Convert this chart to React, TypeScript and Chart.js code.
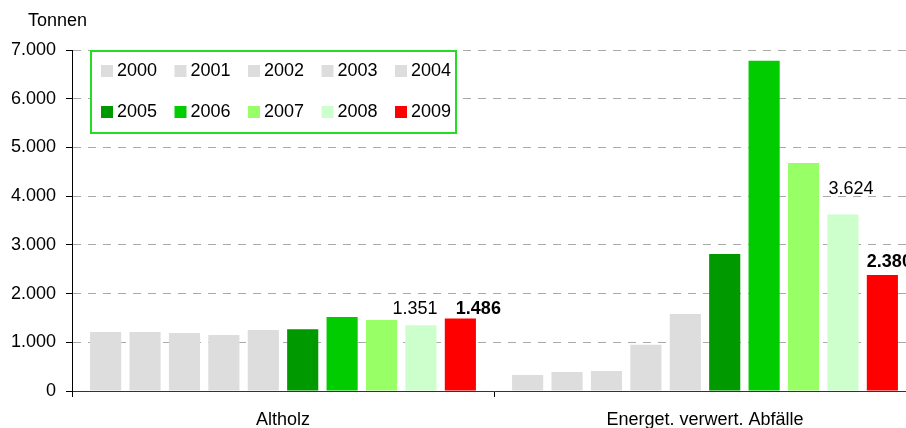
import React, { useEffect, useRef } from "react";
import { Chart, registerables } from "chart.js";

Chart.register(...registerables);

// ---- data ----
const categories = ["Altholz", "Energet. verwert. Abfälle"];
const years = ["2000", "2001", "2002", "2003", "2004", "2005", "2006", "2007", "2008", "2009"];
const values2000 = [1210, 330];
const values2001 = [1210, 390];
const values2002 = [1190, 410];
const values2003 = [1150, 950];
const values2004 = [1250, 1580];
const values2005 = [1270, 2810];
const values2006 = [1520, 6780];
const values2007 = [1460, 4680];
const values2008 = [1351, 3624];
const values2009 = [1486, 2380];
const yearValues = [values2000, values2001, values2002, values2003, values2004, values2005, values2006, values2007, values2008, values2009];
const yearColors = ["#DDDDDD", "#DDDDDD", "#DDDDDD", "#DDDDDD", "#DDDDDD", "#009900", "#00CC00", "#99FF66", "#CCFFCC", "#FF0000"];
const labelledYears = ["2008", "2009"];
const boldLabelYears = ["2009"];
const yMin = 0;
const yMax = 7000;
const yStep = 1000;
const yTitle = "Tonnen";

// label placement (style only): [dx, dy above bar top] per labelled year and category
const labelPlacement: Record<string, number[][]> = {
  "2008": [[-6, 16], [8, 25]],
  "2009": [[18, 10], [7, 13]],
};

const FONT = "'Liberation Sans', Arial, Helvetica, sans-serif";

function fmt(v: number): string {
  return Math.round(v).toString().replace(/\B(?=(\d{3})+(?!\d))/g, ".");
}

const decorPlugin = {
  id: "decor",
  afterDatasetsDraw(chart: any) {
    const ctx = chart.ctx;
    ctx.save();
    ctx.fillStyle = "#000";
    ctx.textAlign = "center";
    ctx.textBaseline = "middle";
    chart.data.datasets.forEach((ds: any, i: number) => {
      if (!labelledYears.includes(ds.label)) return;
      const bold = boldLabelYears.includes(ds.label);
      ctx.font = (bold ? "bold " : "") + "18px " + FONT;
      const meta = chart.getDatasetMeta(i);
      const place = labelPlacement[ds.label] || [];
      meta.data.forEach((el: any, j: number) => {
        const p = place[j] || [0, 15];
        ctx.fillText(fmt(ds.data[j]), el.x + p[0], el.y - p[1]);
      });
    });
    ctx.restore();
  },
  afterDraw(chart: any) {
    const ctx = chart.ctx;
    ctx.save();
    // axis title
    ctx.font = "18px " + FONT;
    ctx.fillStyle = "#000";
    ctx.textAlign = "left";
    ctx.textBaseline = "middle";
    ctx.fillText(yTitle, 28, 21);
    // legend
    const bx = 91, by = 51, bw = 365, bh = 82;
    ctx.fillStyle = "#fff";
    ctx.fillRect(bx, by, bw, bh);
    ctx.strokeStyle = "#22DD22";
    ctx.lineWidth = 2;
    ctx.strokeRect(bx, by, bw, bh);
    ctx.font = "18px " + FONT;
    chart.data.datasets.forEach((ds: any, i: number) => {
      const col = i % 5;
      const row = Math.floor(i / 5);
      const sx = 101 + col * 73.5;
      const sy = 65 + row * 41;
      ctx.fillStyle = ds.backgroundColor;
      ctx.fillRect(sx, sy, 12, 12);
      ctx.fillStyle = "#000";
      ctx.fillText(ds.label, sx + 16, sy + 6.5);
    });
    ctx.restore();
  },
};

export default function App() {
  const ref = useRef<HTMLCanvasElement | null>(null);
  useEffect(() => {
    if (!ref.current) return;
    const chart = new Chart(ref.current, {
      type: "bar",
      data: {
        labels: categories,
        datasets: years.map((y, i) => ({
          label: y,
          data: yearValues[i],
          backgroundColor: yearColors[i],
          borderWidth: 0,
          categoryPercentage: 0.934,
          barPercentage: 0.79,
        })),
      },
      options: {
        animation: false,
        responsive: false,
        maintainAspectRatio: false,
        devicePixelRatio: 1,
        layout: { padding: { top: 50, right: 4, left: 0, bottom: 0 } },
        plugins: {
          legend: { display: false },
          tooltip: { enabled: false },
          title: { display: false },
        },
        scales: {
          x: {
            offset: true,
            grid: {
              offset: true,
              drawOnChartArea: false,
              drawTicks: true,
              tickLength: 6,
              tickColor: "#000",
              color: "#000",
            },
            border: { color: "#333", width: 1 },
            ticks: { color: "#000", font: { family: FONT, size: 18 }, padding: 12 },
            afterFit: (s: any) => {
              s.height = 37;
            },
          },
          y: {
            min: yMin,
            max: yMax,
            ticks: {
              stepSize: yStep,
              color: "#000",
              font: { family: FONT, size: 18 },
              padding: 10,
              callback: (v: any) => fmt(Number(v)),
            },
            grid: {
              color: "#AAAAAA",
              tickColor: "#000",
              tickLength: 6,
              tickBorderDash: [],
            },
            border: { color: "#000", width: 1, dash: [8, 7] },
            afterFit: (s: any) => {
              s.width = 72;
            },
          },
        },
      },
      plugins: [decorPlugin],
    } as any);
    return () => chart.destroy();
  }, []);
  return (
    <div
      style={{
        position: "fixed",
        left: 0,
        top: 0,
        width: 906,
        height: 428,
        overflow: "hidden",
        background: "#fff",
      }}
    >
      <canvas ref={ref} width={920} height={428} style={{ display: "block", width: 920, height: 428 }} />
    </div>
  );
}
